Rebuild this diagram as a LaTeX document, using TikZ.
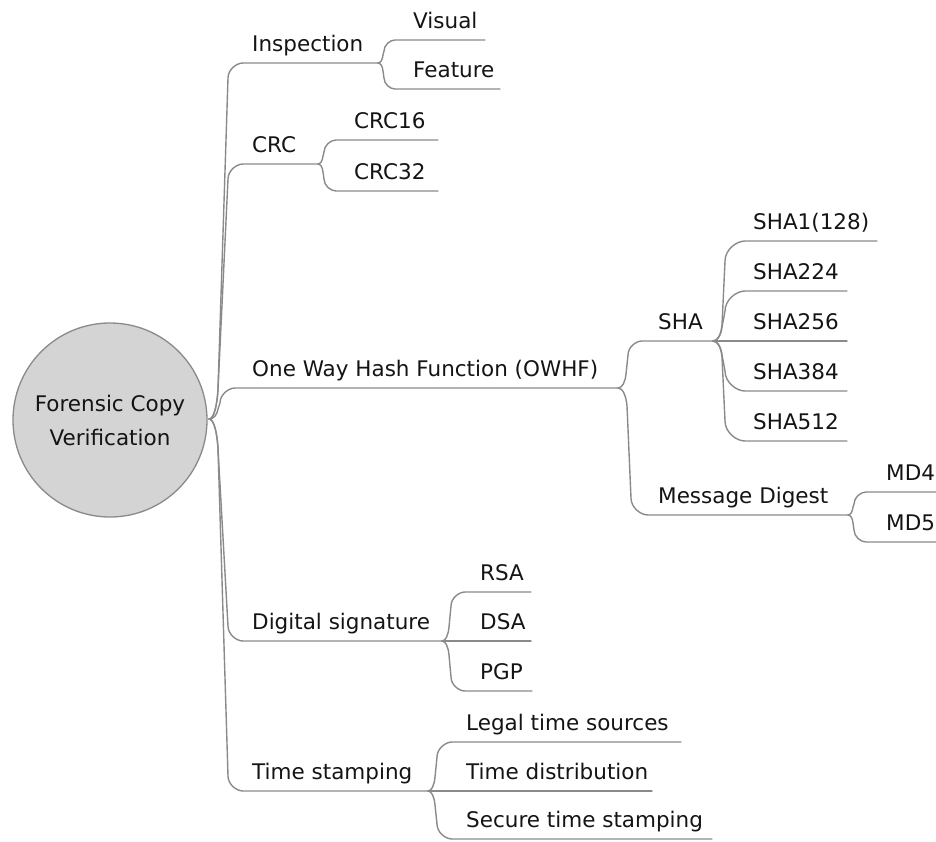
\documentclass[tikz,border=0pt]{standalone}
\usepackage{fontspec}
\setmainfont{DejaVu Sans}
\usetikzlibrary{calc}
\definecolor{edgegray}{HTML}{8A8A8A}
\definecolor{rootfill}{HTML}{D4D4D4}
\definecolor{rootline}{HTML}{8A8A8A}
\definecolor{txt}{HTML}{141414}
\tikzset{
  lbl/.style={anchor=base west, inner sep=0pt, text=txt, font=\fontsize{21.5}{26}\selectfont},
  edge/.style={draw=edgegray, line width=1.4pt, line cap=round},
  rootnode/.style={circle, draw=rootline, line width=1.3pt, fill=rootfill, minimum size=194pt, inner sep=0pt, align=center, text=txt, font=\fontsize{21.5}{34}\selectfont}
}
% leaf: name, text x, line y, line start x, line end x, text
\newcommand\mmleaf[6]{%
  \node[lbl] (#1) at (#2,{#3-12}) {#6};
  \coordinate (#1-s) at (#4,#3);
  \coordinate (#1-e) at (#5,#3);}
% curved connector: parent fork, child name, d1, r1, d2
\newcommand\mmconn[5]{%
  \draw[edge] let \p1=(#1), \p2=(#2-s), \n1={sign(\y2-\y1)}, \n2={\x2-\x1-#5},
    \n3={\n1*#4}, \n4={\n1*\n2} in
   (\p1) .. controls ({\x1+0.55*#3},{\y1}) and ({\x1+0.9*#3},{\y1+0.45*\n3}) .. ({\x1+#3},{\y1+\n3})
   -- ({\x1+#5},{\y2-\n4})
   .. controls ({\x1+#5},{\y2-0.45*\n4}) and ({\x2-0.45*\n2},{\y2}) .. (\p2) -- (#2-e);}
% straight connector
\newcommand\mmstraight[2]{\draw[edge] (#1) -- (#2-e);}

\begin{document}
\begin{tikzpicture}[x=1pt,y=-1pt]
\useasboundingbox (0,0) rectangle (936,841);

\node[rootnode] (root) at (110,420) {Forensic Copy\\Verification};
\coordinate (R-e) at (209,419);

% level 1
\mmleaf{ins}{252}{63}{243}{378}{Inspection}
\mmleaf{crc}{252}{164}{243}{318}{CRC}
\mmleaf{owhf}{252}{388}{235}{618}{One Way Hash Function (OWHF)}
\mmleaf{dig}{252}{641}{243}{442}{Digital signature}
\mmleaf{tst}{252}{791}{243}{428}{Time stamping}

% level 2
\mmleaf{vis}{413}{40}{395}{485}{Visual}
\mmleaf{feat}{413}{89}{395}{500}{Feature}
\mmleaf{crca}{354}{140}{336}{438}{CRC16}
\mmleaf{crcb}{354}{191}{336}{438}{CRC32}
\mmleaf{sha}{658}{341}{642}{713}{SHA}
\mmleaf{md}{658}{515}{648}{848}{Message Digest}
\mmleaf{rsa}{480}{592}{465}{531}{RSA}
\mmleaf{dsa}{480}{641}{465}{531}{DSA}
\mmleaf{pgp}{480}{691}{465}{532}{PGP}
\mmleaf{legal}{466}{742}{452}{681}{Legal time sources}
\mmleaf{tdist}{466}{791}{452}{652}{Time distribution}
\mmleaf{secure}{466}{839}{452}{712}{Secure time stamping}

% level 3
\mmleaf{shaa}{753}{241}{745}{877}{SHA1(128)}
\mmleaf{shab}{753}{291}{745}{847}{SHA224}
\mmleaf{shac}{753}{341}{745}{847}{SHA256}
\mmleaf{shad}{753}{391}{745}{847}{SHA384}
\mmleaf{shae}{753}{441}{745}{847}{SHA512}
\mmleaf{mda}{886}{492}{866}{936}{MD4}
\mmleaf{mdb}{886}{542}{866}{936}{MD5}

% connectors
\mmconn{R-e}{ins}{9}{30}{19}
\mmconn{R-e}{crc}{9}{30}{19}
\mmconn{R-e}{owhf}{9}{10}{11}
\mmconn{R-e}{dig}{9}{30}{19}
\mmconn{R-e}{tst}{9}{30}{19}

\mmconn{ins-e}{vis}{5}{8}{6}
\mmconn{ins-e}{feat}{5}{8}{6}
\mmconn{crc-e}{crca}{5}{8}{6}
\mmconn{crc-e}{crcb}{5}{8}{6}

\mmconn{owhf-e}{sha}{8}{14}{10}
\mmconn{owhf-e}{md}{9}{18}{13}

\mmconn{sha-e}{shaa}{9}{16}{12}
\mmconn{sha-e}{shab}{9}{14}{12}
\mmstraight{sha-e}{shac}
\mmconn{sha-e}{shad}{9}{14}{12}
\mmconn{sha-e}{shae}{9}{16}{12}

\mmconn{md-e}{mda}{5}{8}{6}
\mmconn{md-e}{mdb}{5}{8}{6}

\mmconn{dig-e}{rsa}{7}{14}{9}
\mmstraight{dig-e}{dsa}
\mmconn{dig-e}{pgp}{7}{14}{9}

\mmconn{tst-e}{legal}{7}{14}{9}
\mmstraight{tst-e}{tdist}
\mmconn{tst-e}{secure}{7}{14}{9}
\end{tikzpicture}
\end{document}
